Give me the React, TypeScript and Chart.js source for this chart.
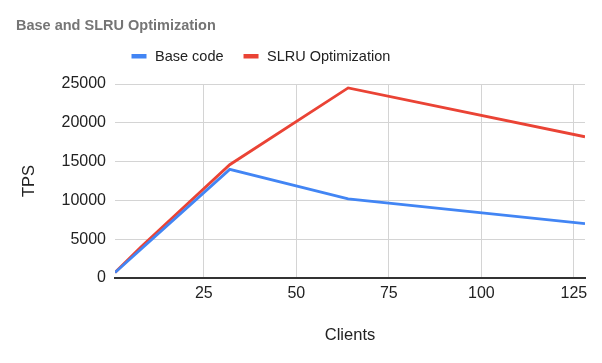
import React, { useEffect, useRef } from "react";
import { Chart, registerables } from "chart.js";

Chart.register(...registerables);

const FONT = '"Liberation Sans", Arial, sans-serif';

const chartTitle = "Base and SLRU Optimization";
const seriesLabels = ["Base code", "SLRU Optimization"];
const clients = [1, 8, 32, 64, 128];
const baseCode = [700, 3700, 14000, 10200, 7000];
const slruOpt = [700, 4000, 14600, 24500, 18200];
const xTickValues = [25, 50, 75, 100, 125];
const yTickValues = [0, 5000, 10000, 15000, 20000, 25000];
const xTitle = "Clients";
const yTitle = "TPS";

const headerPlugin = {
  id: "header",
  afterDraw(chart: any) {
    const ctx = chart.ctx;
    ctx.save();
    ctx.textAlign = "left";
    ctx.textBaseline = "alphabetic";
    ctx.font = `bold 14.5px ${FONT}`;
    ctx.fillStyle = "#757575";
    ctx.fillText(chartTitle, 16, 30);
    ctx.font = `14.5px ${FONT}`;
    let x = 131.5;
    chart.data.datasets.forEach((ds: any) => {
      ctx.fillStyle = ds.borderColor;
      ctx.fillRect(x, 54, 15, 4.5);
      ctx.fillStyle = "#222222";
      ctx.fillText(ds.label, x + 23.5, 60.5);
      x += 23.5 + ctx.measureText(ds.label).width + 20;
    });
    ctx.restore();
  },
};

export default function App() {
  const canvasRef = useRef<HTMLCanvasElement | null>(null);

  useEffect(() => {
    document.body.style.margin = "0";
    const canvas = canvasRef.current;
    if (!canvas) return;
    const chart = new Chart(canvas, {
      type: "line",
      data: {
        datasets: [
          {
            label: seriesLabels[0],
            data: clients.map((c, i) => ({ x: c, y: baseCode[i] })),
            borderColor: "#4285F4",
            backgroundColor: "#4285F4",
            borderWidth: 2.8,
            pointRadius: 0,
            tension: 0,
          },
          {
            label: seriesLabels[1],
            data: clients.map((c, i) => ({ x: c, y: slruOpt[i] })),
            borderColor: "#EA4335",
            backgroundColor: "#EA4335",
            borderWidth: 2.8,
            pointRadius: 0,
            tension: 0,
          },
        ],
      },
      options: {
        animation: false,
        responsive: false,
        devicePixelRatio: 1,
        layout: { padding: { top: 84, right: 17, bottom: 0, left: 0 } },
        plugins: {
          legend: { display: false },
          title: { display: false },
          tooltip: { enabled: false },
        },
        scales: {
          x: {
            type: "linear",
            min: clients[0],
            max: clients[clients.length - 1],
            afterBuildTicks: (s: any) => {
              s.ticks = xTickValues.map((v) => ({ value: v }));
            },
            afterFit: (s: any) => {
              s.height = 85;
            },
            grid: { color: "#d4d4d4", lineWidth: 1, drawTicks: false },
            border: { color: "#333333", width: 2 },
            ticks: {
              color: "#222222",
              font: { family: FONT, size: 16 },
              padding: 6,
              maxRotation: 0,
              callback: (v: any) => String(v),
            },
            title: {
              display: true,
              text: xTitle,
              color: "#222222",
              font: { family: FONT, size: 16.5 },
              padding: { top: 0, bottom: 18 },
            },
          },
          y: {
            type: "linear",
            min: yTickValues[0],
            max: yTickValues[yTickValues.length - 1],
            afterBuildTicks: (s: any) => {
              s.ticks = yTickValues.map((v) => ({ value: v }));
            },
            afterFit: (s: any) => {
              s.width = 115;
            },
            grid: { color: "#d4d4d4", lineWidth: 1, drawTicks: false },
            border: { display: false },
            ticks: {
              color: "#222222",
              font: { family: FONT, size: 16 },
              padding: 9,
              callback: (v: any) => String(v),
            },
            title: {
              display: true,
              text: yTitle,
              color: "#222222",
              font: { family: FONT, size: 16.5 },
              padding: { top: 20, bottom: 0 },
            },
          },
        },
      },
      plugins: [headerPlugin],
    } as any);
    return () => chart.destroy();
  }, []);

  return (
    <div style={{ width: 602, height: 363, position: "relative" }}>
      <canvas ref={canvasRef} width={602} height={363} style={{ display: "block" }} />
    </div>
  );
}
